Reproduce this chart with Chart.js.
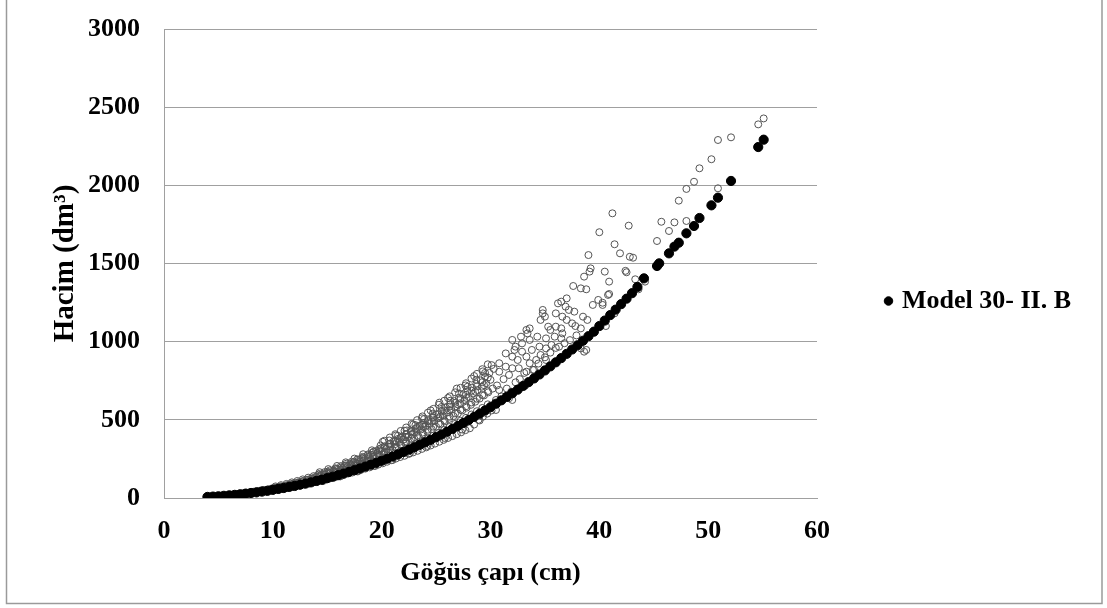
<!DOCTYPE html>
<html lang="tr">
<head>
<meta charset="utf-8">
<title>Hacim - Göğüs çapı</title>
<script src="https://cdn.jsdelivr.net/npm/chart.js@4.4.1/dist/chart.umd.min.js"></script>
<style>
  html, body { margin: 0; padding: 0; background: #ffffff; }
  canvas { display: block; }
</style>
</head>
<body>
<canvas id="chart" width="1107" height="608"></canvas>
<script>
'use strict';

//*****GLOBALS******/

let xTicks = [0, 10, 20, 30, 40, 50, 60];
let yTicks = [0, 500, 1000, 1500, 2000, 2500, 3000];

let legendLabel = 'Model 30- II. B';
let observedLabel = 'Gözlenen';

// model predictions (filled black dots)
let modelDiameter = [
  4.0, 4.5, 5.0, 5.5, 6.0, 6.5, 7.0, 7.5, 8.0, 8.5,
  9.0, 9.5, 10.0, 10.5, 11.0, 11.5, 12.0, 12.5, 13.0, 13.5,
  14.0, 14.5, 15.0, 15.5, 16.0, 16.5, 17.0, 17.5, 18.0, 18.5,
  19.0, 19.5, 20.0, 20.5, 21.0, 21.5, 22.0, 22.5, 23.0, 23.5,
  24.0, 24.5, 25.0, 25.5, 26.0, 26.5, 27.0, 27.5, 28.0, 28.5,
  29.0, 29.5, 30.0, 30.5, 31.0, 31.5, 32.0, 32.5, 33.0, 33.5,
  34.0, 34.5, 35.0, 35.5, 36.0, 36.5, 37.0, 37.5, 38.0, 38.5,
  39.0, 39.5, 40.0, 40.5, 41.0, 41.5, 42.0, 42.5, 43.0, 43.5,
  44.1, 45.3, 45.5, 46.4, 46.9, 47.3, 48.0, 48.7, 49.2, 50.3,
  50.9, 52.1, 54.6, 55.1
];
let modelVolume = [
  7, 9, 11, 14, 17, 20, 24, 28, 32, 36,
  41, 46, 52, 58, 64, 71, 77, 85, 92, 100,
  109, 117, 127, 136, 146, 156, 167, 178, 189, 201,
  213, 225, 238, 251, 265, 279, 294, 309, 324, 340,
  356, 372, 389, 406, 424, 442, 461, 480, 499, 519,
  539, 560, 581, 603, 625, 647, 670, 693, 717, 741,
  765, 790, 816, 842, 868, 895, 922, 950, 977, 1006,
  1035, 1064, 1100, 1135, 1170, 1205, 1240, 1275, 1310, 1350,
  1405, 1484, 1501, 1565, 1608, 1633, 1693, 1740, 1791, 1872,
  1921, 2028, 2245, 2292
];

// measured trees (open grey circles): [diameter cm, volume dm3]
let observedPairs = [
  [3.9, 8], [4.1, 6], [4.2, 7], [4.3, 9], [4.5, 8], [4.6, 11], [4.8, 10], [5.0, 13], [5.1, 11],
  [5.3, 14], [5.5, 12], [5.6, 16], [5.9, 18], [6.0, 15], [6.2, 20], [6.3, 20], [6.5, 18], [6.6, 23],
  [6.8, 26], [6.9, 21], [7.0, 24], [7.2, 29], [7.3, 25], [7.4, 31], [7.6, 33], [7.7, 27], [7.8, 31],
  [7.9, 37], [8.0, 30], [8.1, 35], [8.2, 40], [8.4, 40], [8.5, 34], [8.6, 44],
  [8.8, 46], [8.9, 38], [9.0, 42], [9.1, 52], [9.3, 50], [9.4, 42], [9.5, 47],
  [9.6, 56], [9.7, 45], [9.8, 52], [9.9, 61], [10.0, 60], [10.1, 49], [10.2, 57], [10.3, 66],
  [10.4, 66], [10.5, 54], [10.6, 61], [10.7, 72], [10.8, 72], [10.9, 58], [11.0, 68], [11.1, 77],
  [11.2, 79], [11.3, 64], [11.4, 73], [11.5, 86], [11.6, 86], [11.7, 70], [11.8, 80], [11.9, 93],
  [12.0, 92], [12.1, 74], [12.2, 86], [12.3, 99], [12.4, 100], [12.5, 80], [12.6, 93], [12.7, 106],
  [12.8, 108], [12.9, 86], [13.0, 101], [13.1, 115], [13.2, 116], [13.3, 92], [13.4, 108], [13.5, 124],
  [13.6, 124], [13.7, 99], [13.8, 117], [13.9, 134], [14.0, 134], [14.1, 104], [14.2, 126], [14.3, 143],
  [14.4, 142], [14.5, 112], [14.6, 133], [14.7, 152], [14.8, 151], [14.9, 118], [15.0, 141], [15.1, 162],
  [15.2, 160], [15.3, 126], [15.4, 150], [15.5, 174], [15.6, 172], [15.7, 132], [15.8, 160], [15.9, 186],
  [16.0, 180], [16.1, 140], [16.2, 168], [16.3, 196], [16.4, 190], [16.5, 148], [16.6, 178], [16.7, 208],
  [16.8, 202], [16.9, 156], [17.0, 188], [17.1, 220], [17.2, 212], [17.3, 163], [17.4, 198], [17.5, 232],
  [17.6, 224], [17.7, 172], [17.8, 210], [17.9, 246], [18.0, 236], [18.1, 180], [18.2, 220], [18.3, 258],
  [18.4, 248], [18.5, 188], [18.6, 232], [18.7, 272], [18.8, 262], [18.9, 196], [19.0, 244], [19.1, 288],
  [19.2, 274], [19.3, 206], [19.4, 256], [19.5, 300], [19.6, 288], [19.7, 214], [19.8, 268], [19.9, 316],
  [20.0, 300], [20.1, 222], [20.2, 280], [20.3, 330], [20.1, 360],
  [20.4, 314], [20.5, 232], [20.6, 294], [20.7, 344], [20.8, 328], [20.9, 242], [21.0, 308], [21.1, 362],
  [21.2, 344], [21.3, 252], [21.4, 320], [21.5, 378], [21.3, 400],
  [21.6, 358], [21.7, 262], [21.8, 334], [21.9, 394], [22.0, 374], [22.1, 270], [22.2, 348], [22.3, 410], [22.1, 430],
  [22.4, 390], [22.5, 282], [22.6, 364], [22.7, 426], [22.8, 406], [22.9, 292], [23.0, 378], [23.1, 444], [22.9, 470],
  [23.2, 422], [23.3, 302], [23.4, 392], [23.5, 462], [23.6, 438], [23.7, 314], [23.8, 408], [23.9, 480], [23.7, 510],
  [24.0, 456], [24.1, 324], [24.2, 424], [24.3, 498], [24.4, 474], [24.5, 336], [24.6, 440], [24.7, 516], [24.5, 560],
  [24.8, 492], [24.9, 348], [25.0, 456], [25.1, 536], [25.2, 510], [25.3, 360], [25.4, 472], [25.5, 556], [25.3, 610],
  [25.6, 528], [25.7, 372], [25.8, 490], [25.9, 578], [26.0, 548], [26.1, 384], [26.2, 506], [26.3, 598], [26.1, 640],
  [26.4, 566], [26.5, 396], [26.6, 524], [26.7, 620], [26.8, 586], [26.9, 408], [27.0, 540], [27.1, 640], [26.9, 700],
  [27.2, 606], [27.3, 420], [27.4, 560], [27.5, 662], [27.6, 626], [27.7, 434], [27.8, 578], [27.9, 684], [27.7, 720],
  [28.0, 646], [28.1, 446], [28.2, 596], [28.3, 706], [28.4, 668], [28.5, 470], [28.6, 616], [28.7, 730], [28.5, 780],
  [28.8, 690], [28.9, 500], [29.0, 636], [29.1, 752], [29.2, 712], [29.3, 520], [29.4, 656], [29.5, 776], [29.3, 810],
  [29.6, 734], [29.7, 540], [29.8, 676], [29.9, 800], [30.0, 756], [30.1, 560], [30.2, 700], [30.3, 826], [30.1, 850],
  [14.2, 150], [14.3, 165], [15.0, 168], [15.1, 185], [15.8, 185], [15.9, 205], [16.6, 205], [16.7, 228],
  [17.4, 228], [17.5, 252], [18.2, 252], [18.3, 280], [19.0, 276], [19.1, 305], [19.8, 302], [19.9, 336],
  [20.6, 330], [20.7, 368], [21.4, 358], [21.5, 398], [22.2, 390], [22.3, 432], [23.0, 420], [23.1, 466],
  [23.8, 455], [23.9, 505], [24.6, 490], [24.7, 540], [25.4, 522], [25.5, 582], [26.2, 560], [26.3, 622],
  [27.0, 598], [27.1, 668], [27.8, 640], [27.9, 712], [28.6, 680], [28.7, 756], [29.4, 722], [29.5, 800],
  [14.6, 108], [16.2, 138], [17.8, 170], [19.4, 205], [21.0, 243], [22.6, 287], [24.2, 333], [25.8, 384],
  [27.4, 438], [29.0, 496],
  [10.25, 58], [10.25, 66], [10.25, 74], [10.75, 64], [10.75, 73], [10.75, 82],
  [11.25, 70], [11.25, 80], [11.25, 90], [11.75, 78], [11.75, 89], [11.75, 100],
  [12.25, 85], [12.25, 97], [12.25, 109], [12.75, 92], [12.75, 106], [12.75, 119],
  [13.25, 101], [13.25, 115], [13.25, 130], [13.75, 109], [13.75, 125], [13.75, 140],
  [14.25, 119], [14.25, 136], [14.25, 153], [14.75, 128], [14.75, 146], [14.75, 165],
  [15.25, 138], [15.25, 157], [15.25, 177], [15.75, 148], [15.75, 169], [15.75, 190],
  [16.25, 159], [16.25, 181], [16.25, 204], [16.75, 170], [16.75, 194], [16.75, 219],
  [17.25, 181], [17.25, 206], [17.25, 232], [17.75, 192], [17.75, 220], [17.75, 247],
  [18.25, 205], [18.25, 234], [18.25, 263], [18.75, 217], [18.75, 248], [18.75, 279],
  [19.25, 230], [19.25, 263], [19.25, 296], [19.75, 243], [19.75, 277], [19.75, 312],
  [20.25, 256], [20.25, 293], [20.25, 329], [20.25, 366], [20.75, 271], [20.75, 310], [20.75, 348], [20.75, 387],
  [21.25, 286], [21.25, 326], [21.25, 367], [21.25, 408], [21.75, 300], [21.75, 343], [21.75, 386], [21.75, 429],
  [22.25, 316], [22.25, 361], [22.25, 406], [22.25, 451], [22.75, 332], [22.75, 379], [22.75, 427], [22.75, 474],
  [23.25, 349], [23.25, 398], [23.25, 448], [23.25, 498], [23.75, 365], [23.75, 418], [23.75, 470], [23.75, 522],
  [24.25, 382], [24.25, 437], [24.25, 491], [24.25, 546], [24.75, 399], [24.75, 456], [24.75, 513], [24.75, 570],
  [25.25, 417], [25.25, 476], [25.25, 536], [25.25, 596], [25.75, 436], [25.75, 498], [25.75, 560], [25.75, 622],
  [26.25, 455], [26.25, 520], [26.25, 585], [26.25, 650], [26.75, 474], [26.75, 541], [26.75, 609], [26.75, 676],
  [27.25, 494], [27.25, 564], [27.25, 635], [27.25, 705], [27.75, 513], [27.75, 587], [27.75, 660], [27.75, 734],
  [28.25, 534], [28.25, 611], [28.25, 687], [28.25, 764], [28.75, 555], [28.75, 635], [28.75, 714], [28.75, 794],
  [29.25, 576], [29.25, 659], [29.25, 741], [29.25, 824], [29.75, 599], [29.75, 684], [29.75, 770], [29.75, 855],
  [30.4, 600], [30.5, 627], [30.5, 563], [30.6, 720], [30.8, 691], [30.8, 808], [30.8, 862], [31.0, 650], [31.2, 760],
  [31.4, 925], [31.4, 840], [31.5, 700], [31.7, 638], [31.7, 787], [31.9, 680], [32.0, 1011], [32.0, 904], [32.0, 830],
  [32.0, 627], [32.2, 947], [32.3, 968], [32.3, 740], [32.5, 883], [32.6, 830], [32.7, 760], [32.8, 1032], [32.9, 989],
  [32.9, 936], [33.1, 800], [33.2, 720], [33.3, 904], [33.3, 808], [33.3, 1075], [33.4, 1053], [33.6, 1085], [33.6, 862],
  [33.6, 1011], [33.8, 947], [33.9, 819], [34.0, 760], [34.0, 820], [34.2, 883], [34.3, 1032], [34.4, 860], [34.5, 968],
  [34.6, 915], [34.6, 1139], [34.8, 1203], [34.8, 1181], [35.0, 1160], [35.0, 900], [35.1, 883], [35.1, 957], [35.1, 1021],
  [35.3, 1096], [35.4, 840], [35.5, 1075], [35.5, 930], [35.6, 979], [35.9, 1032], [36.0, 1181], [36.0, 1096], [36.0, 960],
  [36.2, 1245], [36.3, 968], [36.5, 1085], [36.5, 1021], [36.5, 1256], [36.6, 1053], [36.6, 1160], [36.8, 990], [36.9, 1224],
  [37.0, 1277], [37.0, 1139], [37.2, 1203], [37.3, 1010], [37.5, 1117], [37.6, 1356], [37.7, 1192], [37.8, 1100], [37.9, 1040],
  [38.3, 1341], [38.3, 1085], [38.3, 957], [38.5, 1160], [38.6, 936], [38.6, 1416], [38.8, 1335], [38.8, 947], [38.9, 1139],
  [39.0, 1554], [39.1, 1448], [39.2, 1469], [39.4, 1235], [39.9, 1267], [40.0, 1700], [40.3, 1235], [40.3, 1249], [40.5, 1448],
  [40.6, 1100], [40.8, 1299], [40.9, 1384], [40.9, 1305], [41.2, 1821], [41.4, 1623], [41.4, 1181], [41.9, 1565], [42.4, 1453],
  [42.5, 1444], [42.7, 1742], [42.8, 1543], [43.1, 1537], [43.3, 1399], [43.6, 1335], [44.2, 1384], [45.3, 1644], [45.7, 1767],
  [46.4, 1708], [46.9, 1763], [47.3, 1902], [48.0, 1772], [48.0, 1977], [48.7, 2023], [49.2, 2109], [50.3, 2167], [50.9, 2290],
  [50.9, 1981], [52.1, 2307], [54.6, 2390], [55.1, 2428]
];

//*****STYLE HELPERS******/

let serifFont = '"Liberation Serif", "Times New Roman", serif';
let axisGrey = '#a0a0a0';

//*****PLUGIN: outer frame******/

let outerFrame = {
  id: 'outerFrame',
  beforeDraw(chart) {
    let ctx = chart.ctx;
    ctx.save();
    ctx.fillStyle = '#ffffff';
    ctx.fillRect(0, 0, chart.width, chart.height);
    ctx.strokeStyle = '#9a9a9a';
    ctx.lineWidth = 1.5;
    ctx.beginPath();
    ctx.moveTo(6.5, 0);
    ctx.lineTo(6.5, 603.5);
    ctx.lineTo(1102, 603.5);
    ctx.lineTo(1102, 0);
    ctx.stroke();
    ctx.restore();
  }
};

//*****DATA******/

let modelPoints = [];
for (let i = 0; i < modelDiameter.length; i++) {
  modelPoints.push({ x: modelDiameter[i], y: modelVolume[i] });
}

let observedPoints = observedPairs.map(function (p) {
  return { x: p[0], y: p[1] };
});

//*****CHART******/

let canvasElem = document.getElementById('chart');

let chartObj = {
  type: 'scatter',
  data: {
    datasets: [{
      label: legendLabel,
      data: modelPoints,
      backgroundColor: '#000000',
      borderColor: '#000000',
      borderWidth: 1,
      pointRadius: 4.6,
      pointHoverRadius: 4.6
    },
    {
      label: observedLabel,
      data: observedPoints,
      backgroundColor: 'rgba(0,0,0,0)',
      borderColor: '#555555',
      borderWidth: 1,
      pointRadius: 3.5,
      pointHoverRadius: 3.5
    }]
  },
  options: {
    responsive: false,
    animation: false,
    devicePixelRatio: 1,
    layout: {
      padding: { top: 29, left: 0, right: 26, bottom: 35 }
    },
    plugins: {
      tooltip: { enabled: false },
      legend: {
        position: 'right',
        labels: {
          usePointStyle: true,
          pointStyle: 'circle',
          boxWidth: 1,
          boxHeight: 6,
          padding: 71,
          color: '#000000',
          font: { family: serifFont, size: 26, weight: 'bold' },
          filter: function (item) {
            return item.datasetIndex === 0;
          }
        }
      }
    },
    scales: {
      x: {
        type: 'linear',
        min: xTicks[0],
        max: xTicks[xTicks.length - 1],
        afterFit: function (scale) { scale.height = 75; },
        afterBuildTicks: function (scale) {
          scale.ticks = xTicks.map(function (v) { return { value: v }; });
        },
        grid: { display: false, drawTicks: false },
        border: { display: true, color: axisGrey, width: 1 },
        ticks: {
          padding: 18,
          color: '#000000',
          font: { family: serifFont, size: 26, weight: 'bold' },
          callback: function (v) { return String(v); }
        },
        title: {
          display: true,
          text: 'Göğüs çapı (cm)',
          color: '#000000',
          padding: { top: 0, bottom: -16 },
          font: { family: serifFont, size: 26, weight: 'bold' }
        }
      },
      y: {
        type: 'linear',
        min: yTicks[0],
        max: yTicks[yTicks.length - 1],
        afterFit: function (scale) {
          scale.width = 164;
          // tick padding should not push the plot top down
          scale.paddingTop = 16;
          scale.paddingBottom = 16;
        },
        afterBuildTicks: function (scale) {
          scale.ticks = yTicks.map(function (v) { return { value: v }; });
        },
        grid: { display: true, color: axisGrey, lineWidth: 1, drawTicks: false },
        border: { display: true, color: axisGrey, width: 1 },
        ticks: {
          padding: 24,
          color: '#000000',
          font: { family: serifFont, size: 26, weight: 'bold' },
          callback: function (v) { return String(v); }
        },
        title: {
          display: true,
          text: 'Hacim (dm³)',
          color: '#000000',
          padding: { top: 48, bottom: 0 },
          font: { family: serifFont, size: 29, weight: 'bold' }
        }
      }
    }
  },
  plugins: [outerFrame]
};

new Chart(canvasElem, chartObj);
</script>
</body>
</html>
